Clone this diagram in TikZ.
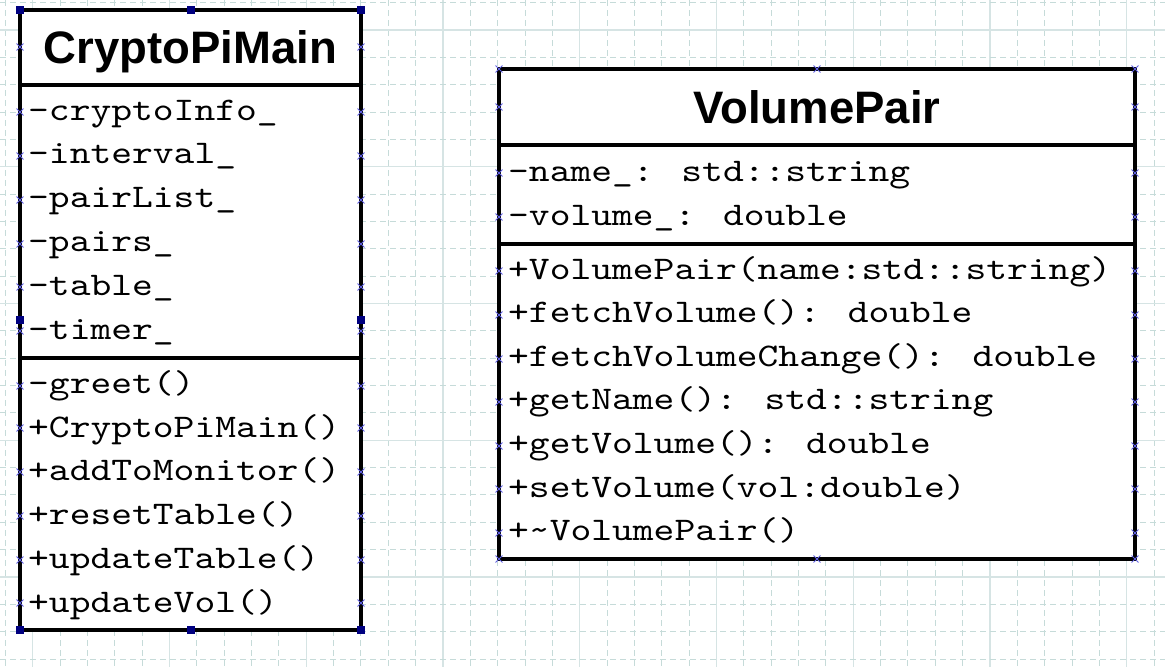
\documentclass[tikz,border=0pt]{standalone}
\usepackage{fontspec}
\setmainfont{Liberation Sans}
\newfontfamily\monof{lmmono10-regular.otf}[FakeStretch=1.2]
\usetikzlibrary{shapes.misc}
\definecolor{gridsolid}{RGB}{214,228,228}
\definecolor{griddash}{RGB}{198,219,217}
\definecolor{handlecol}{RGB}{0,0,128}
\definecolor{markcol}{RGB}{95,95,225}
\tikzset{
  compart/.style={draw=black, line width=4pt, fill=white, inner sep=0pt, outer sep=0pt, anchor=north west},
  titletext/.style={font=\fontsize{45.5}{50}\selectfont\bfseries, inner sep=0pt, anchor=base},
  rowtext/.style={font=\monof\fontsize{33}{40}\selectfont, inner sep=0pt, anchor=base west},
  handlebox/.style={fill=handlecol, draw=none, minimum size=8pt, inner sep=0pt},
  xmk/.style={cross out, draw=markcol, line width=0.9pt, minimum size=6pt, inner sep=0pt},
  minorline/.style={griddash, line width=1pt, dash pattern=on 6pt off 4pt},
  majorline/.style={gridsolid, line width=1.2pt}
}
\begin{document}
\begin{tikzpicture}[x=1pt,y=-1pt]
\useasboundingbox (0,0) rectangle (1165,667);
\fill[white] (0,0) rectangle (1165,667);
% grid
\foreach \k in {-1,...,42} {
  \pgfmathsetmacro\gx{32.75+27.35*\k}
  \pgfmathtruncatemacro\mm{mod(\k+5,5)}
  \ifnum\mm=0
    \draw[majorline] (\gx,0) -- (\gx,667);
  \else
    \draw[minorline] (\gx,0) -- (\gx,667);
  \fi
}
\foreach \k in {-1,...,23} {
  \pgfmathsetmacro\gy{30+27.35*\k}
  \pgfmathtruncatemacro\mm{mod(\k+5,5)}
  \ifnum\mm=0
    \draw[majorline] (0,\gy) -- (1165,\gy);
  \else
    \draw[minorline] (0,\gy) -- (1165,\gy);
  \fi
}
% CryptoPiMain
\node[compart, minimum width=341pt, minimum height=75.5pt] (cpmT) at (20,9.5) {};
\node[compart, minimum width=341pt, minimum height=273pt] (cpmA) at (20,85) {};
\node[compart, minimum width=341pt, minimum height=272pt] (cpmM) at (20,358) {};
% VolumePair
\node[compart, minimum width=636pt, minimum height=76pt] (vpT) at (499,69) {};
\node[compart, minimum width=636pt, minimum height=99pt] (vpA) at (499,145) {};
\node[compart, minimum width=636pt, minimum height=315pt] (vpM) at (499,244) {};
% markers CryptoPiMain
\foreach \yy [count=\i] in {47,112,156,200,244,287,331,386,428,472,516,560,603} {
  \node[xmk] (cml\i) at (20,\yy) {};
  \node[xmk] (cmr\i) at (361,\yy) {};
}
% markers VolumePair
\foreach \yy [count=\i] in {69,107,173,217,271,315,359,402,446,489,533,559} {
  \node[xmk] (vml\i) at (499,\yy) {};
  \node[xmk] (vmr\i) at (1135,\yy) {};
}
\node[xmk] (vmt) at (vpT.north) {};
\node[xmk] (vmb) at (vpM.south) {};
% handles
\node[handlebox] (h1) at (cpmT.north west) {};
\node[handlebox] (h2) at (cpmT.north) {};
\node[handlebox] (h3) at (cpmT.north east) {};
\node[handlebox] (h4) at (20,319.5) {};
\node[handlebox] (h5) at (361,319.5) {};
\node[handlebox] (h6) at (cpmM.south west) {};
\node[handlebox] (h7) at (cpmM.south) {};
\node[handlebox] (h8) at (cpmM.south east) {};
% titles
\node[titletext] (cpmTitle) at (190.5,63) {CryptoPiMain};
\node[titletext] (vpTitle) at (817,123) {VolumePair};
% CryptoPiMain attributes
\foreach \t [count=\i] in {-cryptoInfo\_,-interval\_,-pairList\_,-pairs\_,-table\_,-timer\_} {
  \node[rowtext] (cpa\i) at (28,{120+43.8*(\i-1)}) {\t};
}
\foreach \t [count=\i] in {-greet(),+CryptoPiMain(),+addToMonitor(),+resetTable(),+updateTable(),+updateVol()} {
  \node[rowtext] (cpo\i) at (28,{393.5+43.7*(\i-1)}) {\t};
}
% VolumePair attributes
\node[rowtext] (vpa1) at (508,181.5) {-name\_: std::string};
\node[rowtext] (vpa2) at (508,225) {-volume\_: double};
\foreach \t [count=\i] in {+VolumePair(name:std::string),+fetchVolume(): double,+fetchVolumeChange(): double,+getName(): std::string,+getVolume(): double,+setVolume(vol:double),+\textasciitilde VolumePair()} {
  \node[rowtext] (vpo\i) at (508,{279+43.6*(\i-1)}) {\t};
}
\end{tikzpicture}
\end{document}
